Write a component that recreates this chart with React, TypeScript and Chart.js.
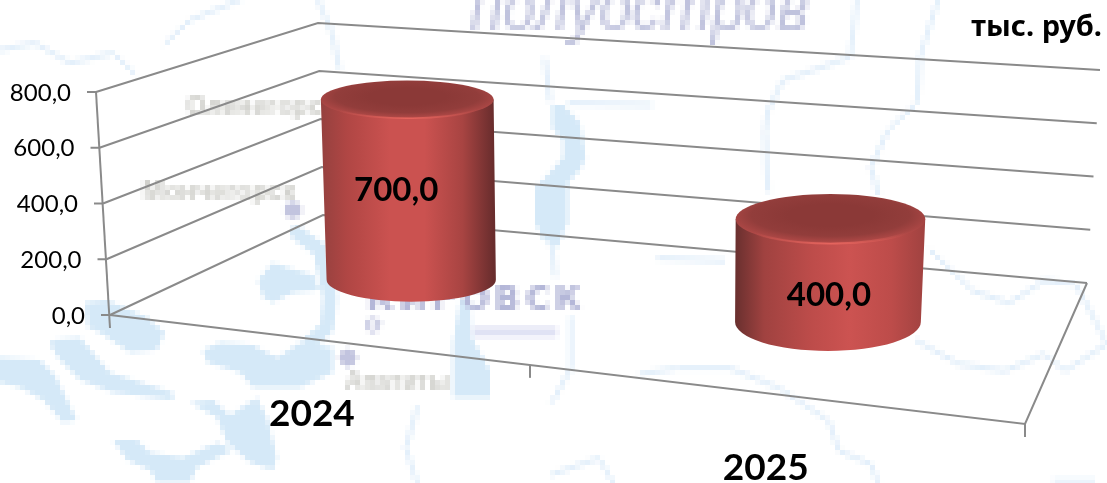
import React, { useEffect, useRef } from "react";
import { Chart, registerables } from "chart.js";

Chart.register(...registerables);

// ---- data ----
const categories = ["2024", "2025"];
const seriesValues = [700, 400];
const valueTicks = [0, 200, 400, 600, 800];
const unitLabel = "тыс. руб.";
const placeNames = ["Оленегорск", "Мончегорск", "Апатиты"];

// ---- perspective frame of the 3D box ----
const FL = [110, 315], FR = [1025, 424], BL = [323, 215], BR = [1087, 283];
const FL_TOP = [96, 92], BL_TOP = [318, 23], BR_TOP = [1100, 70];
const BAR_RISE = 0.923;
const GRID = "#8a8a8a";
const FONT = "Lato, 'Noto Sans', sans-serif";
const CYR_FONT = "'Noto Sans', 'Open Sans', sans-serif";

const sideStops = [
  ["#95413f", "#b04644", "#cb5250", "#cb5250", "#a84442", "#692d2d"],
  ["#6a302f", "#a04240", "#bd4c4a", "#cc5351", "#bd4c4a", "#a04240"],
];
const cylinderNudge = [4, 7];
const topLean = [-4, 2.5];
const ryScale = [0.96, 1.06];
const labelShift = [[-15, 1], [1, 25]];

// homography of the floor (u along front edge, v into depth)
function homography() {
  const dx1 = FR[0] - BR[0], dx2 = BL[0] - BR[0], sx = FL[0] - FR[0] + BR[0] - BL[0];
  const dy1 = FR[1] - BR[1], dy2 = BL[1] - BR[1], sy = FL[1] - FR[1] + BR[1] - BL[1];
  const den = dx1 * dy2 - dx2 * dy1;
  const g = (sx * dy2 - dx2 * sy) / den;
  const h = (dx1 * sy - sx * dy1) / den;
  const a = FR[0] - FL[0] + g * FR[0], b = BL[0] - FL[0] + h * BL[0], c = FL[0];
  const d = FR[1] - FL[1] + g * FR[1], e = BL[1] - FL[1] + h * BL[1], f = FL[1];
  return (u: number, v: number) => {
    const w = g * u + h * v + 1;
    return { x: (a * u + b * v + c) / w, y: (d * u + e * v + f) / w, w };
  };
}
const floorAt = homography();
const lerp = (p: number[], q: number[], t: number) => [p[0] + (q[0] - p[0]) * t, p[1] + (q[1] - p[1]) * t];

// ---- faint map behind the chart ----
const lakePolys: number[][][] = [
  [[85, 302], [107, 300], [147, 318], [165, 333], [157, 350], [130, 353], [100, 333], [88, 327]],
  [[0, 357], [40, 360], [55, 375], [77, 420], [63, 423], [43, 400], [20, 387], [0, 383]],
  [[50, 345], [52, 340], [80, 338], [110, 373], [173, 393], [173, 400], [113, 393], [80, 380], [60, 360]],
  [[203, 350], [220, 343], [253, 345], [277, 358], [300, 343], [333, 347], [333, 373], [300, 387], [253, 387], [240, 373], [207, 363]],
  [[258, 280], [273, 263], [287, 268], [313, 275], [320, 290], [293, 293], [273, 303], [263, 297]],
  [[190, 402], [213, 400], [230, 415], [257, 397], [267, 417], [277, 457], [273, 470], [250, 463], [227, 443], [217, 417]],
  [[113, 440], [137, 440], [150, 453], [183, 457], [217, 443], [233, 450], [197, 467], [190, 483], [157, 483], [150, 470], [127, 460]],
  [[460, 300], [470, 300], [472, 337], [490, 370], [490, 397], [453, 397], [453, 343]],
  [[552, 105], [563, 105], [580, 123], [586, 157], [580, 170], [568, 183], [568, 223], [563, 233], [558, 247], [543, 240], [535, 223], [535, 187], [550, 173], [563, 157], [563, 140], [552, 127]],
];
const lakeStrokes: [number, number[][]][] = [
  [14, [[297, 233], [320, 250], [330, 297], [327, 327], [310, 343]]],
];
const rivers: number[][][] = [
  [[0, 50], [35, 43], [70, 63], [113, 53], [134, 73]],
  [[166, 43], [190, 20], [240, 0]],
  [[318, 0], [332, 33], [339, 67]],
  [[857, 0], [850, 57], [814, 70], [783, 80], [768, 110], [765, 133], [768, 190]],
  [[938, 0], [920, 57], [917, 103], [888, 130], [871, 167], [878, 193]],
  [[917, 341], [959, 364], [1005, 371], [1044, 354], [1065, 371], [1107, 344]],
  [[931, 251], [973, 291], [1009, 303], [1044, 281], [1076, 284], [1097, 324], [1107, 344]],
  [[641, 374], [677, 368], [730, 368], [779, 388], [829, 421], [839, 451], [871, 464], [878, 483]],
  [[553, 474], [599, 458], [613, 483]],
  [[571, 318], [571, 368], [553, 401]],
  [[659, 258], [723, 261]],
  [[417, 408], [406, 448], [417, 483]],
  [[1055, 481], [1093, 481]],
  [[545, 60], [550, 100]],
  [[570, 103], [650, 105]],
  [[552, 247], [555, 275]],
];

function strokePath(ctx: CanvasRenderingContext2D, pts: number[][]) {
  ctx.beginPath();
  pts.forEach((p, i) => (i ? ctx.lineTo(p[0], p[1]) : ctx.moveTo(p[0], p[1])));
  ctx.stroke();
}

const PIXEL = 5;

function drawMap(ctx: CanvasRenderingContext2D) {
  ctx.fillStyle = "#ffffff";
  ctx.fillRect(0, 0, 1107, 483);
  ctx.lineJoin = "round";
  ctx.lineCap = "round";
  ctx.strokeStyle = "#e4f0fb";
  ctx.lineWidth = 5;
  rivers.forEach((r) => strokePath(ctx, r));
  ctx.fillStyle = "#d5e9f8";
  lakePolys.forEach((poly) => {
    ctx.beginPath();
    poly.forEach((p, i) => (i ? ctx.lineTo(p[0], p[1]) : ctx.moveTo(p[0], p[1])));
    ctx.closePath();
    ctx.fill();
  });
  ctx.strokeStyle = "#d5e9f8";
  lakeStrokes.forEach(([w, r]) => {
    ctx.lineWidth = w;
    strokePath(ctx, r);
  });
  ctx.textBaseline = "alphabetic";
  ctx.textAlign = "left";
  ctx.fillStyle = "#bfc2dd";
  ctx.font = "italic 60px 'Liberation Sans', sans-serif";
  ctx.fillText("полуостров", 470, 28);
  ctx.font = "bold 34px 'DejaVu Sans', sans-serif";
  ctx.fillStyle = "#b4b7d8";
  (ctx as any).letterSpacing = "4.5px";
  ctx.fillText("Кировск".toUpperCase(), 366, 309);
  (ctx as any).letterSpacing = "0px";
  ctx.lineWidth = 4;
  ctx.strokeStyle = "#c2c4df";
  ctx.beginPath();
  ctx.arc(373, 325, 6, 0, Math.PI * 2);
  ctx.stroke();
  ctx.fillStyle = "#c2c4df";
  [[293, 210], [348, 358]].forEach(([x, y]) => {
    ctx.beginPath();
    ctx.arc(x, y, 9, 0, Math.PI * 2);
    ctx.fill();
  });
  ctx.fillStyle = "#e0e2f4";
  ctx.fillRect(473, 327, 84, 10);
  ctx.fillStyle = "#cfcfca";
  ctx.font = "bold 26px 'Liberation Sans', sans-serif";
  ctx.fillText(placeNames[0], 186, 114);
  ctx.fillText(placeNames[1], 143, 200);
  ctx.font = "bold 24px 'Liberation Sans', sans-serif";
  ctx.fillText(placeNames[2], 345, 392);
}

const mapPlugin = {
  id: "mapBackground",
  beforeDraw(chart: any) {
    const ctx: CanvasRenderingContext2D = chart.ctx;
    const off = document.createElement("canvas");
    off.width = Math.ceil(chart.width / PIXEL);
    off.height = Math.ceil(chart.height / PIXEL);
    const o = off.getContext("2d")!;
    o.scale(1 / PIXEL, 1 / PIXEL);
    drawMap(o);
    ctx.save();
    ctx.imageSmoothingEnabled = false;
    ctx.filter = "blur(0.7px)";
    ctx.drawImage(off, 0, 0, off.width * PIXEL, off.height * PIXEL);
    ctx.restore();
  },
  beforeDatasetsDraw(chart: any) {
    const ctx: CanvasRenderingContext2D = chart.ctx;
    const y = chart.scales.y;
    const xs = chart.scales.x;
    const zero = y.getPixelForValue(0);
    const span = zero - y.getPixelForValue(valueTicks[valueTicks.length - 1]);
    ctx.save();
    ctx.strokeStyle = GRID;
    ctx.lineWidth = 2;
    ctx.fillStyle = "#000000";
    ctx.textAlign = "right";
    ctx.textBaseline = "middle";
    ctx.font = `24px ${FONT}`;
    valueTicks.forEach((v) => {
      const t = (zero - y.getPixelForValue(v)) / span;
      const a = lerp(FL, FL_TOP, t), b = lerp(BL, BL_TOP, t), c = lerp(BR, BR_TOP, t);
      strokePath(ctx, [a, b, c]);
      strokePath(ctx, [[a[0] - 9, a[1]], a]);
      ctx.fillText(v.toFixed(1).replace(".", ","), a[0] - 25, a[1] + 1);
    });
    strokePath(ctx, [FL_TOP, [FL[0], FL[1] + 13]]);
    strokePath(ctx, [FL, FR, BR]);
    strokePath(ctx, [FR, [FR[0], FR[1] + 13]]);
    const mid = floorAt(0.5, 0);
    strokePath(ctx, [[mid.x + 10, mid.y + 1], [mid.x + 10, mid.y + 14]]);
    // category labels under the front edge
    ctx.textAlign = "center";
    ctx.textBaseline = "middle";
    ctx.font = `bold 37px ${FONT}`;
    categories.forEach((label, i) => {
      const u = (xs.getPixelForValue(i) - chart.chartArea.left) / chart.chartArea.width;
      const p = floorAt(u, 0);
      ctx.fillText(label, p.x + 7, p.y + 76);
    });
    ctx.textAlign = "right";
    ctx.font = `bold 29px ${CYR_FONT}`;
    ctx.fillText(unitLabel, 1102, 28);
    ctx.restore();
  },
  afterDatasetsDraw(chart: any) {
    const ctx: CanvasRenderingContext2D = chart.ctx;
    const y = chart.scales.y;
    const zero = y.getPixelForValue(0);
    const meta = chart.getDatasetMeta(0);
    meta.data.forEach((bar: any, i: number) => {
      const u = (bar.x - chart.chartArea.left) / chart.chartArea.width;
      const base = floorAt(u, 0.5);
      const cx = base.x + cylinderNudge[i];
      const baseY = base.y + 1;
      const topY = baseY - (zero - bar.y) * BAR_RISE;
      const rx = bar.width / 2 / base.w;
      const baseRx = rx * 0.98;
      const topCx = cx + topLean[i];
      const ryBase = (Math.abs(floorAt(u, 0.285).y - floorAt(u, 0.715).y) / 2) * ryScale[i];
      const ryTop = ryBase * 0.86;

      ctx.save();
      // side
      const g = ctx.createLinearGradient(topCx - rx, 0, topCx + rx, 0);
      sideStops[i].forEach((c, k) => g.addColorStop([0, 0.15, 0.4, 0.6, 0.82, 1][k], c));
      ctx.fillStyle = g;
      ctx.beginPath();
      ctx.moveTo(topCx - rx, topY);
      ctx.lineTo(cx - baseRx, baseY);
      ctx.ellipse(cx, baseY, baseRx, ryBase, 0, Math.PI, 0, true);
      ctx.lineTo(topCx + rx, topY);
      ctx.closePath();
      ctx.fill();
      // top face, dark in the middle and blending into the side at its rim
      ctx.save();
      ctx.translate(topCx, topY);
      ctx.scale(1, ryTop / rx);
      const r = ctx.createRadialGradient(0, -rx * 0.15, rx * 0.45, 0, -rx * 0.15, rx * 1.15);
      r.addColorStop(0, "#8b3937");
      r.addColorStop(0.55, "#923d3b");
      r.addColorStop(0.85, "#a94644");
      r.addColorStop(1, "#bd4e4b");
      ctx.fillStyle = r;
      ctx.beginPath();
      ctx.arc(0, 0, rx, 0, Math.PI * 2);
      ctx.fill();
      // highlight along the middle of the front rim
      const hi = ctx.createLinearGradient(-rx, 0, rx, 0);
      hi.addColorStop(0.1, "rgba(232,102,95,0)");
      hi.addColorStop(0.5, "rgba(232,102,95,0.95)");
      hi.addColorStop(0.9, "rgba(232,102,95,0)");
      ctx.strokeStyle = hi;
      ctx.lineWidth = 7;
      ctx.beginPath();
      ctx.arc(0, 0, rx - 1.5, Math.PI * 0.1, Math.PI * 0.9);
      ctx.stroke();
      ctx.restore();
      // value label
      ctx.fillStyle = "#000000";
      ctx.textAlign = "center";
      ctx.textBaseline = "middle";
      ctx.font = `bold 33px ${FONT}`;
      const midY = (topY + baseY) / 2;
      ctx.fillText(
        seriesValues[i].toFixed(1).replace(".", ","),
        cx + labelShift[i][0],
        midY + labelShift[i][1]
      );
      ctx.restore();
    });
  },
};

export default function App() {
  const ref = useRef<HTMLCanvasElement>(null);
  useEffect(() => {
    if (!ref.current) return;
    const chart = new Chart(ref.current, {
      type: "bar",
      data: {
        labels: categories,
        datasets: [
          {
            data: seriesValues,
            backgroundColor: "rgba(0,0,0,0)",
            borderWidth: 0,
            barPercentage: 0.4,
            categoryPercentage: 1,
          },
        ],
      },
      options: {
        animation: false,
        responsive: false,
        layout: { padding: { left: FL[0], right: 1107 - FR[0], top: FL_TOP[1], bottom: 483 - FL[1] } },
        plugins: { legend: { display: false }, tooltip: { enabled: false }, title: { display: false } },
        scales: {
          x: { display: false },
          y: { display: false, min: 0, max: valueTicks[valueTicks.length - 1] },
        },
      },
      plugins: [mapPlugin],
    });
    return () => chart.destroy();
  }, []);
  return (
    <div style={{ position: "absolute", left: 0, top: 0, width: 1107, height: 483 }}>
      <canvas ref={ref} width={1107} height={483} style={{ display: "block" }} />
    </div>
  );
}
